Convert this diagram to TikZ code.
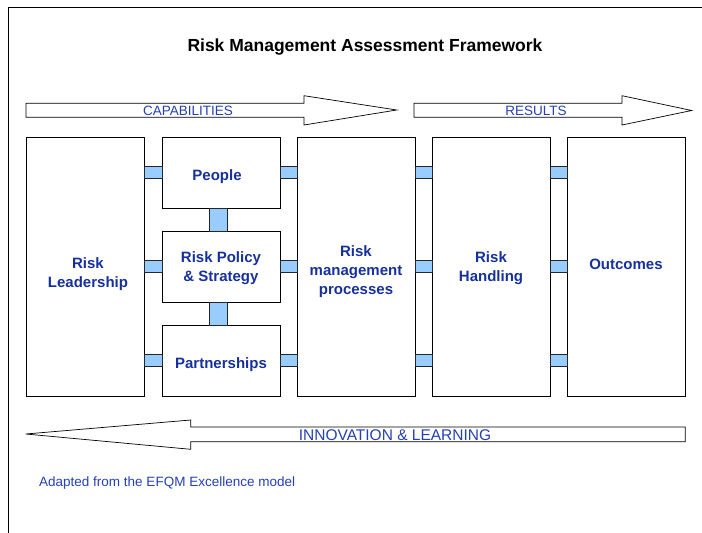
\documentclass[tikz,border=0pt]{standalone}
\usepackage{fontspec}
\setmainfont{Liberation Sans}
\usetikzlibrary{positioning}

\definecolor{boxblue}{RGB}{22,48,156}
\definecolor{flowblue}{RGB}{36,64,180}
\definecolor{linkfill}{RGB}{153,204,255}

\begin{document}
\begin{tikzpicture}[x=1pt,y=-1pt,
  box/.style={rectangle,draw,line width=0.9pt,inner sep=0pt,outer sep=0pt,minimum width=118pt},
  tall/.style={box,minimum height=259pt},
  short/.style={box,minimum height=71pt},
  boxlabel/.style={align=center,text=boxblue,font=\fontsize{15}{19}\selectfont\bfseries,inner sep=0pt},
  link/.style={draw=black!85,line width=0.9pt,fill=linkfill},
  flow/.style={draw,line width=0.7pt,fill=white},
  flowlabel/.style={text=flowblue,font=\fontsize{13.5}{16}\selectfont,inner sep=0pt}]
\useasboundingbox (0,0) rectangle (702,533);

% Page frame and heading
\draw[line width=0.9pt] (8,533) -- (8,7) -- (702,7);
\node[font=\fontsize{17.5}{20}\selectfont\bfseries] (title) at (365,47) {Risk Management Assessment Framework};

% Flow arrows
\draw[flow] (26,103.3) -- (304,103.3) -- (304,95.7) -- (396.7,110) -- (304,125) -- (304,117.3) -- (26,117.3) -- cycle;
\node[flowlabel] (capabilities) at (188,110.5) {CAPABILITIES};
\draw[flow] (414,103.3) -- (622,103.3) -- (622,95.7) -- (691.7,110.5) -- (622,125) -- (622,117.3) -- (414,117.3) -- cycle;
\node[flowlabel] (results) at (536,110.5) {RESULTS};
\draw[flow] (685.3,427) -- (190.7,427) -- (190.7,420) -- (25.7,434) -- (190.7,449.3) -- (190.7,441.7) -- (685.3,441.7) -- cycle;
\node[flowlabel,font=\fontsize{15.5}{18}\selectfont] (learning) at (395,435.5) {INNOVATION \& LEARNING};

% Enablers
\node[tall,label={[boxlabel,xshift=3pt,yshift=-8pt]center:Risk\\Leadership}] (lead) at (85,266.5) {};
\node[short,right=18pt of lead.north east,anchor=north west,
  label={[boxlabel,xshift=-4pt,yshift=-4pt]center:People}] (people) {};
\node[short,below=23pt of people,
  label={[boxlabel,yshift=-2pt]center:Risk Policy\\\& Strategy}] (policy) {};
\node[short,below=23pt of policy,
  label={[boxlabel,yshift=-4pt]center:Partnerships}] (partners) {};
\node[tall,right=17pt of people.north east,anchor=north west,
  label={[boxlabel,yshift=-5pt]center:Risk\\management\\processes}] (proc) {};

% Results
\node[tall,right=17pt of proc,
  label={[boxlabel,yshift=-2pt]center:Risk\\Handling}] (handling) {};
\node[tall,right=17pt of handling,
  label={[boxlabel,yshift=2pt]center:Outcomes}] (outcomes) {};

% Links
\draw[link] ([yshift=6pt]lead.east |- people.west) rectangle ([yshift=-6pt]people.west);
\draw[link] ([yshift=6pt]lead.east |- policy.west) rectangle ([yshift=-6pt]policy.west);
\draw[link] ([yshift=6pt]lead.east |- partners.west) rectangle ([yshift=-6pt]partners.west);
\draw[link] ([yshift=6pt]people.east) rectangle ([yshift=-6pt]proc.west |- people.east);
\draw[link] ([yshift=6pt]policy.east) rectangle ([yshift=-6pt]proc.west |- policy.east);
\draw[link] ([yshift=6pt]partners.east) rectangle ([yshift=-6pt]proc.west |- partners.east);
\draw[link] ([yshift=6pt]proc.east |- people.east) rectangle ([yshift=-6pt]handling.west |- people.east);
\draw[link] ([yshift=6pt]proc.east |- policy.east) rectangle ([yshift=-6pt]handling.west |- policy.east);
\draw[link] ([yshift=6pt]proc.east |- partners.east) rectangle ([yshift=-6pt]handling.west |- partners.east);
\draw[link] ([yshift=6pt]handling.east |- people.east) rectangle ([yshift=-6pt]outcomes.west |- people.east);
\draw[link] ([yshift=6pt]handling.east |- policy.east) rectangle ([yshift=-6pt]outcomes.west |- policy.east);
\draw[link] ([yshift=6pt]handling.east |- partners.east) rectangle ([yshift=-6pt]outcomes.west |- partners.east);
\draw[link] ([xshift=-12pt]people.south) rectangle ([xshift=6pt]policy.north);
\draw[link] ([xshift=-12pt]policy.south) rectangle ([xshift=6pt]partners.north);

\node[flowlabel,anchor=base west] (source) at (39,486) {Adapted from the EFQM Excellence model};
\end{tikzpicture}
\end{document}
